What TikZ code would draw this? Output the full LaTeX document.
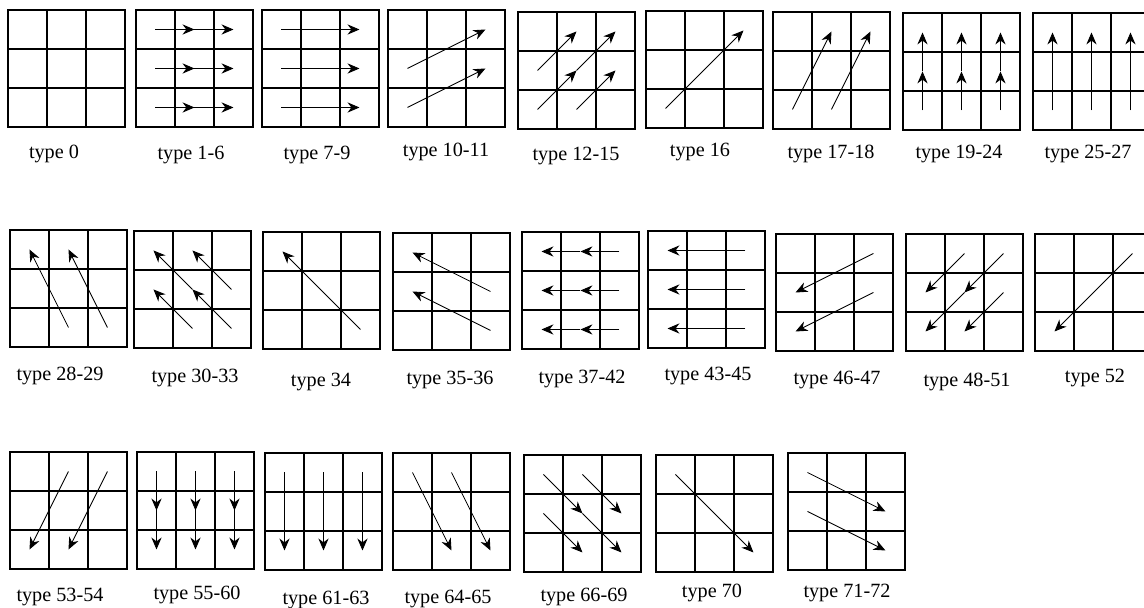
\documentclass[tikz,border=0pt]{standalone}
\usepackage{fontspec}
\setmainfont{Liberation Serif}
\usetikzlibrary{arrows.meta}
\begin{document}
\begin{tikzpicture}[
    x=0.02cm,y=-0.02cm,
    every node/.style={font=\fontsize{11.5}{13}\selectfont},
    gridbox/.style={draw=black, line width=1.3pt, line join=miter},
    flow/.style={line width=0.5pt, -{Stealth[length=6.8pt,width=5.8pt,inset=2.2pt]}},
    boardunit/.style={x=0.78cm, y=-0.78cm},
    lbl/.style={inner sep=0pt, anchor=center}
]
    \useasboundingbox (0,0) rectangle (1144,608);
    \clip (0,0) rectangle (1144,608);

    % boards and their captions
    \foreach \n/\x/\y/\lx/\ly/\t in {
        0/8/10/54/154/type 0,
        1/136/10/191/155/type 1-6,
        2/262/10/317/155/type 7-9,
        3/388/10/446/152/type 10-11,
        4/518/12/576/156/type 12-15,
        5/646/11/700/152/type 16,
        6/773/12/831/154/type 17-18,
        7/903/13/959/154/type 19-24,
        8/1033/13/1088/154/type 25-27,
        9/10/230/60/376/type 28-29,
        10/134/231/195/378/type 30-33,
        11/263/232/321/382/type 34,
        12/393/233/450/380/type 35-36,
        13/522/232/582/379/type 37-42,
        14/648/231/708/376/type 43-45,
        15/776/234/837/380/type 46-47,
        16/906/234/967/382/type 48-51,
        17/1035/234/1095/378/type 52,
        18/10/452/60/597/type 53-54,
        19/137/452/197/595/type 55-60,
        20/265/453/326/600/type 61-63,
        21/393/453/448/599/type 64-65,
        22/524/455/584/597/type 66-69,
        23/656/455/712/593/type 70,
        24/788/453/847/593/type 71-72} {
        \coordinate (b\n) at (\x,\y);
        \draw[gridbox, shift={(\x,\y)}, boardunit] (0,0) rectangle (3,3)
            (1,0) -- (1,3) (2,0) -- (2,3) (0,1) -- (3,1) (0,2) -- (3,2);
        \node[lbl] (l\n) at (\lx,\ly) {\t};
    }

    % row 1
    \begin{scope}[shift={(b1)}, boardunit]
        \foreach \r in {0.5,1.5,2.5} {
            \draw[flow] (0.5,\r) -- (1.5,\r);
            \draw[flow] (1.5,\r) -- (2.5,\r);
        }
    \end{scope}
    \begin{scope}[shift={(b2)}, boardunit]
        \foreach \r in {0.5,1.5,2.5}
            \draw[flow] (0.5,\r) -- (2.5,\r);
    \end{scope}
    \begin{scope}[shift={(b3)}, boardunit]
        \draw[flow] (0.5,1.5) -- (2.5,0.5);
        \draw[flow] (0.5,2.5) -- (2.5,1.5);
    \end{scope}
    \begin{scope}[shift={(b4)}, boardunit]
        \draw[flow] (0.5,1.5) -- (1.5,0.5);
        \draw[flow] (1.5,1.5) -- (2.5,0.5);
        \draw[flow] (0.5,2.5) -- (1.5,1.5);
        \draw[flow] (1.5,2.5) -- (2.5,1.5);
    \end{scope}
    \begin{scope}[shift={(b5)}, boardunit]
        \draw[flow] (0.5,2.5) -- (2.5,0.5);
    \end{scope}
    \begin{scope}[shift={(b6)}, boardunit]
        \draw[flow] (0.5,2.5) -- (1.5,0.5);
        \draw[flow] (1.5,2.5) -- (2.5,0.5);
    \end{scope}
    \begin{scope}[shift={(b7)}, boardunit]
        \foreach \c in {0.5,1.5,2.5} {
            \draw[flow] (\c,2.5) -- (\c,1.5);
            \draw[flow] (\c,1.5) -- (\c,0.5);
        }
    \end{scope}
    \begin{scope}[shift={(b8)}, boardunit]
        \foreach \c in {0.5,1.5,2.5}
            \draw[flow] (\c,2.5) -- (\c,0.5);
    \end{scope}

    % row 2
    \begin{scope}[shift={(b9)}, boardunit]
        \draw[flow] (1.5,2.5) -- (0.5,0.5);
        \draw[flow] (2.5,2.5) -- (1.5,0.5);
    \end{scope}
    \begin{scope}[shift={(b10)}, boardunit]
        \draw[flow] (1.5,1.5) -- (0.5,0.5);
        \draw[flow] (2.5,1.5) -- (1.5,0.5);
        \draw[flow] (1.5,2.5) -- (0.5,1.5);
        \draw[flow] (2.5,2.5) -- (1.5,1.5);
    \end{scope}
    \begin{scope}[shift={(b11)}, boardunit]
        \draw[flow] (2.5,2.5) -- (0.5,0.5);
    \end{scope}
    \begin{scope}[shift={(b12)}, boardunit]
        \draw[flow] (2.5,1.5) -- (0.5,0.5);
        \draw[flow] (2.5,2.5) -- (0.5,1.5);
    \end{scope}
    \begin{scope}[shift={(b13)}, boardunit]
        \foreach \r in {0.5,1.5,2.5} {
            \draw[flow] (2.5,\r) -- (1.5,\r);
            \draw[flow] (1.5,\r) -- (0.5,\r);
        }
    \end{scope}
    \begin{scope}[shift={(b14)}, boardunit]
        \foreach \r in {0.5,1.5,2.5}
            \draw[flow] (2.5,\r) -- (0.5,\r);
    \end{scope}
    \begin{scope}[shift={(b15)}, boardunit]
        \draw[flow] (2.5,0.5) -- (0.5,1.5);
        \draw[flow] (2.5,1.5) -- (0.5,2.5);
    \end{scope}
    \begin{scope}[shift={(b16)}, boardunit]
        \draw[flow] (1.5,0.5) -- (0.5,1.5);
        \draw[flow] (2.5,0.5) -- (1.5,1.5);
        \draw[flow] (1.5,1.5) -- (0.5,2.5);
        \draw[flow] (2.5,1.5) -- (1.5,2.5);
    \end{scope}
    \begin{scope}[shift={(b17)}, boardunit]
        \draw[flow] (2.5,0.5) -- (0.5,2.5);
    \end{scope}

    % row 3
    \begin{scope}[shift={(b18)}, boardunit]
        \draw[flow] (1.5,0.5) -- (0.5,2.5);
        \draw[flow] (2.5,0.5) -- (1.5,2.5);
    \end{scope}
    \begin{scope}[shift={(b19)}, boardunit]
        \foreach \c in {0.5,1.5,2.5} {
            \draw[flow] (\c,0.5) -- (\c,1.5);
            \draw[flow] (\c,1.5) -- (\c,2.5);
        }
    \end{scope}
    \begin{scope}[shift={(b20)}, boardunit]
        \foreach \c in {0.5,1.5,2.5}
            \draw[flow] (\c,0.5) -- (\c,2.5);
    \end{scope}
    \begin{scope}[shift={(b21)}, boardunit]
        \draw[flow] (0.5,0.5) -- (1.5,2.5);
        \draw[flow] (1.5,0.5) -- (2.5,2.5);
    \end{scope}
    \begin{scope}[shift={(b22)}, boardunit]
        \draw[flow] (0.5,0.5) -- (1.5,1.5);
        \draw[flow] (1.5,0.5) -- (2.5,1.5);
        \draw[flow] (0.5,1.5) -- (1.5,2.5);
        \draw[flow] (1.5,1.5) -- (2.5,2.5);
    \end{scope}
    \begin{scope}[shift={(b23)}, boardunit]
        \draw[flow] (0.5,0.5) -- (2.5,2.5);
    \end{scope}
    \begin{scope}[shift={(b24)}, boardunit]
        \draw[flow] (0.5,0.5) -- (2.5,1.5);
        \draw[flow] (0.5,1.5) -- (2.5,2.5);
    \end{scope}
\end{tikzpicture}
\end{document}
